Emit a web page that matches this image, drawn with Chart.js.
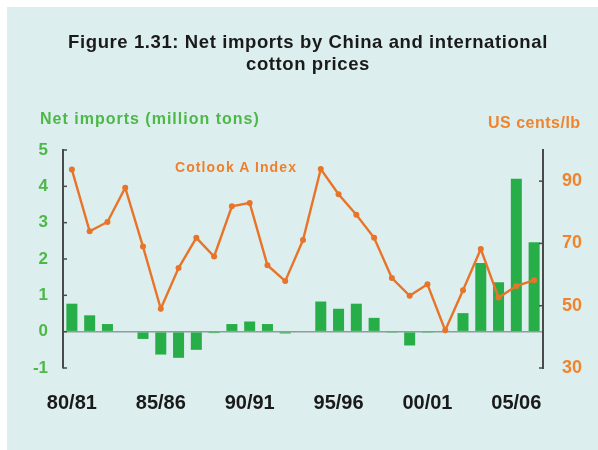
<!DOCTYPE html>
<html>
<head>
<meta charset="utf-8">
<script src="https://cdn.jsdelivr.net/npm/chart.js@4/dist/chart.umd.min.js"></script>
<style>
  html, body { margin:0; padding:0; background:#ffffff; }
  #wrap { position:relative; width:598px; height:450px; overflow:hidden; }
  #panel { position:absolute; left:7px; top:7px; width:591px; height:443px; background:#dcefee; }
  canvas { position:absolute; left:0; top:0; }
  .t { position:absolute; font-family:"Liberation Sans", Arial, sans-serif; font-weight:bold; white-space:nowrap; }
  #title { left:0; width:616px; top:31px; text-align:center; font-size:18.5px; line-height:22px; letter-spacing:0.6px; color:#1a1a1a; }
  #ylab { left:40px; top:111px; font-size:16px; line-height:16px; letter-spacing:1px; color:#4db848; }
  #y2lab { left:488px; top:115px; font-size:16px; line-height:16px; letter-spacing:0.5px; color:#f0842e; }
  #series { left:175px; top:160px; font-size:14px; line-height:14px; letter-spacing:1.1px; color:#ef7f2c; }
</style>
</head>
<body>
<div id="wrap">
  <div id="panel"></div>
  <canvas id="c" width="598" height="450"></canvas>
  <div class="t" id="title">Figure 1.31: Net imports by China and international<br>cotton prices</div>
  <div class="t" id="ylab">Net imports (million tons)</div>
  <div class="t" id="y2lab">US cents/lb</div>
  <div class="t" id="series">Cotlook A Index</div>
</div>
<script>
const seasons = ["80/81","81/82","82/83","83/84","84/85","85/86","86/87","87/88","88/89","89/90",
                 "90/91","91/92","92/93","93/94","94/95","95/96","96/97","97/98","98/99","99/00",
                 "00/01","01/02","02/03","03/04","04/05","05/06","06/07"];
const shownLabels = ["80/81","85/86","90/91","95/96","00/01","05/06"];
const netImports = [0.77,0.45,0.21,0,-0.2,-0.63,-0.72,-0.5,-0.04,0.21,
                    0.28,0.21,-0.05,0,0.83,0.63,0.77,0.38,-0.03,-0.38,
                    -0.03,0,0.51,1.89,1.36,4.21,2.46];
const cotlookA = [93.7,73.9,76.9,87.9,69.0,49.0,62.1,71.8,65.8,81.9,
                  83.0,63.0,57.9,71.1,93.9,85.8,79.2,71.8,58.9,53.2,
                  56.9,42.1,55.0,68.2,52.6,56.3,58.2];
const leftTicks = [-1,0,1,2,3,4,5];
const rightTicks = [30,50,70,90];

const FONT = "'Liberation Sans', Arial, sans-serif";
const innerTicks = {
  id:'innerTicks',
  afterDraw(chart){
    const ctx = chart.ctx, a = chart.chartArea;
    ctx.save();
    ctx.strokeStyle = '#4a4a4a'; ctx.lineWidth = 1.5;
    chart.scales.y.ticks.forEach(t=>{
      const y = chart.scales.y.getPixelForValue(t.value);
      ctx.beginPath(); ctx.moveTo(a.left, y); ctx.lineTo(a.left+4, y); ctx.stroke();
    });
    chart.scales.y2.ticks.forEach(t=>{
      const y = chart.scales.y2.getPixelForValue(t.value);
      ctx.beginPath(); ctx.moveTo(a.right, y); ctx.lineTo(a.right-4, y); ctx.stroke();
    });
    ctx.restore();
  }
};

new Chart(document.getElementById('c'), {
  data: {
    labels: seasons,
    datasets: [
      { type:'line', label:'Cotlook A Index', data: cotlookA, yAxisID:'y2', order:0,
        borderColor:'#e8742a', backgroundColor:'#e8742a', borderWidth:2.4,
        pointRadius:3, pointBackgroundColor:'#e8742a', pointBorderWidth:0, tension:0 },
      { type:'bar', label:'Net imports', data: netImports, yAxisID:'y', order:1,
        backgroundColor:'#28ae48', borderWidth:0, categoryPercentage:1, barPercentage:0.62 }
    ]
  },
  options: {
    responsive:false, animation:false,
    layout:{ padding:{ left:0, right:0, top:150, bottom:0 } },
    plugins:{ legend:{display:false}, tooltip:{enabled:false}, title:{display:false} },
    scales:{
      x:{ type:'category', offset:true,
          grid:{display:false}, border:{display:false},
          ticks:{ autoSkip:false, maxRotation:0, minRotation:0, padding:15, color:'#1a1a1a',
                  font:{family:FONT, size:20, weight:'bold'},
                  callback(v, i){ const l = seasons[i]; return shownLabels.includes(l) ? l : ''; } },
          afterFit(s){ s.height = 82; } },
      y:{ position:'left', min:-1, max:5,
          afterBuildTicks(s){ s.ticks = leftTicks.map(v=>({value:v})); },
          grid:{ drawTicks:false, lineWidth:1.5,
                 color(c){ return c.tick && c.tick.value===0 ? '#8e9c9c' : 'rgba(0,0,0,0)'; } },
          border:{ display:true, color:'#4a4a4a', width:2 },
          ticks:{ padding:15, color:'#4db848', font:{family:FONT, size:17, weight:'bold'} },
          afterFit(s){ s.width = 63; } },
      y2:{ position:'right', min:30, max:100,
          afterBuildTicks(s){ s.ticks = rightTicks.map(v=>({value:v})); },
          grid:{ drawTicks:false, drawOnChartArea:false, color:'rgba(0,0,0,0)' },
          border:{ display:true, color:'#4a4a4a', width:2 },
          ticks:{ padding:19, color:'#f0842e', font:{family:FONT, size:18, weight:'bold'} },
          afterFit(s){ s.width = 55; } }
    }
  },
  plugins:[innerTicks]
});
</script>
</body>
</html>
